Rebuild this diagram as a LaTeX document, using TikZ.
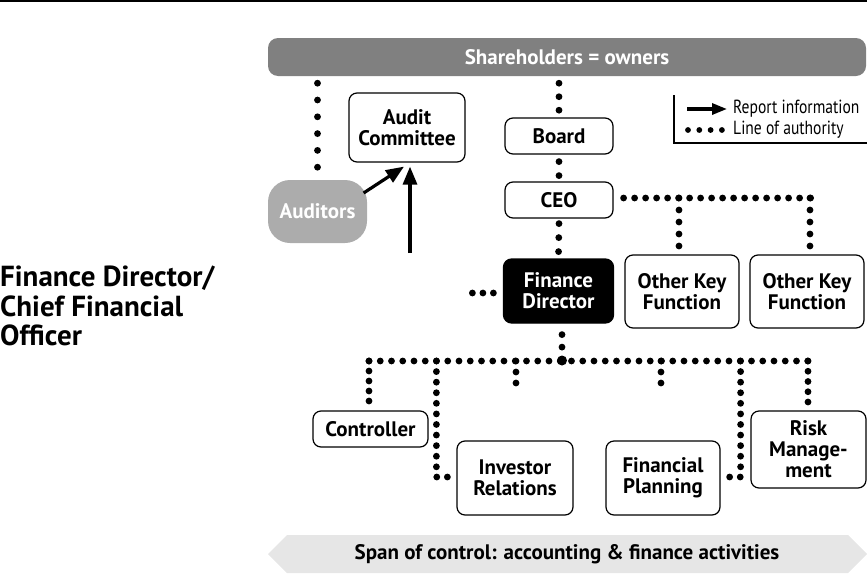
\documentclass[tikz,border=0pt]{standalone}
\usepackage{fontspec}
\setmainfont{PT Sans}
\newfontfamily\condfont[FakeStretch=0.82]{PT Sans}
\usetikzlibrary{arrows.meta,calc}
\definecolor{shgray}{RGB}{128,128,128}
\definecolor{audgray}{RGB}{172,172,172}
\definecolor{spangray}{RGB}{230,230,230}
\begin{document}
\begin{tikzpicture}[x=1pt,y=-1pt,
  box/.style={draw=black, line width=1.2pt, rounded corners=8pt, fill=white, align=center,
    font=\bfseries\fontsize{21}{21}\selectfont, inner sep=0pt},
  authline/.style={line width=6.8pt, line cap=round, dash pattern=on 0pt off #1},
  authline/.default=11pt,
  rep/.style={line width=3.2pt, -{Triangle[length=18pt,width=14pt]}},
]
\useasboundingbox (0,0) rectangle (867,573);
% top rule
\draw[line width=1.5pt] (0,0.75) -- (867,0.75);

% shareholders bar
\node[fill=shgray, rounded corners=10pt, minimum width=598pt, minimum height=38pt, inner sep=0pt,
  text=white, font=\bfseries\fontsize{21}{21}\selectfont] (sh) at (567,57) {Shareholders = owners};

% nodes
\node[box, minimum width=116pt, minimum height=69pt] (audit) at (407,127.5) {Audit\\Committee};
\node[box, draw=none, fill=audgray, rounded corners=22pt, text=white, minimum width=99pt, minimum height=63pt] (auditors) at (317.5,211.5) {Auditors};
\node[box, minimum width=108pt, minimum height=36pt] (board) at (559,136) {Board};
\node[box, minimum width=108pt, minimum height=36pt] (ceo) at (559,200) {CEO};
\node[box, fill=black, text=white, minimum width=110pt, minimum height=64pt] (fd) at (558.5,291) {Finance\\Director};
\node[box, minimum width=114pt, minimum height=73pt] (okf1) at (682,291.5) {Other Key\\Function};
\node[box, minimum width=114pt, minimum height=73pt] (okf2) at (807,291.5) {Other Key\\Function};
\node[box, minimum width=115pt, minimum height=36pt] (ctrl) at (370.5,429) {Controller};
\node[box, minimum width=116pt, minimum height=74pt] (inv) at (515,478) {Investor\\Relations};
\node[box, minimum width=114pt, minimum height=74pt] (fin) at (663,478) {Financial\\Planning};
\node[box, minimum width=115pt, minimum height=77pt] (risk) at (808.5,449.5) {Risk\\Manage-\\ment};

% title
\node[anchor=north west, align=left, inner sep=0pt, font=\bfseries\fontsize{29}{29.5}\selectfont] (title) at (0,266) {Finance Director/\\Chief Financial\\Officer};

% lines of authority (each path runs a few points past its last dot)
\draw[authline=16.8pt] ($(sh.south -| auditors.north)+(0,7)$) -- ($(auditors.north)+(0,-8)$);
\draw[authline=13.5pt] ($(sh.south -| board.north)+(0,7)$) -- ($(board.north)+(0,-3)$);
\draw[authline=14pt] ($(board.south)+(0,7)$) -- ($(ceo.north)+(0,-2)$);
\draw[authline=14pt] ($(ceo.south)+(0,5)$) -- ($(fd.north)+(0,-3)$);

\coordinate (j1) at (679,198);
\coordinate (j2) at (810,198);
\draw[authline=11pt] ($(ceo.east)+(10,-2)$) -- ($(j2)+(4,0)$);
\draw[authline=12pt] (j1) -- ($(j1 |- okf1.north)+(0,-4)$);
\draw[authline=12pt] (j2) -- ($(j2 |- okf2.north)+(0,-4)$);

\draw[authline=10.5pt] ($(fd.west)+(-9.5,2)$) -- ($(fd.west)+(-34.5,2)$);

\coordinate (row) at (562,360.5);
\draw[authline=12.5pt] ($(fd.south)+(3.5,11)$) -- ($(fd.south)+(3.5,28)$);
\coordinate (rl) at (369,361);
\coordinate (rr) at (808,361);
\draw[authline=11.25pt] (rl) -- ($(rr)+(4,0)$);
\fill (row) circle (5pt);

\draw[authline=10pt] (rl) -- ($(rl |- ctrl.north)+(0,-5)$);
\coordinate (ic) at ($(inv.west)+(-20,-1)$);
\draw[authline=10.58pt] (rl -| ic) -- (ic) -- ($(ic)+(15,0)$);
\coordinate (s1) at (516,361);
\coordinate (s2) at (661,361);
\draw[authline=11pt] (s1) -- ($(s1)+(0,26)$);
\draw[authline=11pt] (s2) -- ($(s2)+(0,26)$);
\coordinate (fc) at ($(fin.east)+(20,-1)$);
\draw[authline=10.58pt] (rl -| fc) -- (fc) -- ($(fc)+(-15,0)$);
\draw[authline=10.25pt] (rr) -- ($(rr |- risk.north)+(0,-5)$);

% report arrows
\coordinate (src) at (410,253);
\draw[rep] ($(auditors.east)+(-4,-18.5)$) -- ($(audit.south)+(-3,4)$);
\draw[rep] (src) -- ($(audit.south)+(3,4)$);

% legend
\coordinate (lg1) at (674,95);
\coordinate (lg2) at (674,143);
\coordinate (lg3) at (867,143);
\draw[line width=1.2pt] (lg1) -- (lg2) -- (lg3);
\coordinate (la1) at (687,109);
\coordinate (la2) at (727,109);
\draw[line width=3.2pt, -{Triangle[length=15pt,width=11pt]}] (la1) -- (la2);
\node[anchor=west, inner sep=0pt, font=\condfont\fontsize{19}{19}\selectfont] (lt1) at (733,109) {Report information};
\coordinate (ld1) at (688,130);
\coordinate (ld2) at (726,130);
\draw[authline=11.3pt, line width=5.8pt] (ld1) -- (ld2);
\node[anchor=west, inner sep=0pt, font=\condfont\fontsize{19}{19}\selectfont] (lt2) at (733,130) {Line of authority};

% span of control
\fill[spangray] (287,535) -- (848,535) -- (867,554) -- (848,573) -- (287,573) -- (268,554) -- cycle;
\node[inner sep=0pt, font=\bfseries\fontsize{21}{21}\selectfont] (span) at (567,554) {Span of control: accounting \& finance activities};
\end{tikzpicture}
\end{document}
